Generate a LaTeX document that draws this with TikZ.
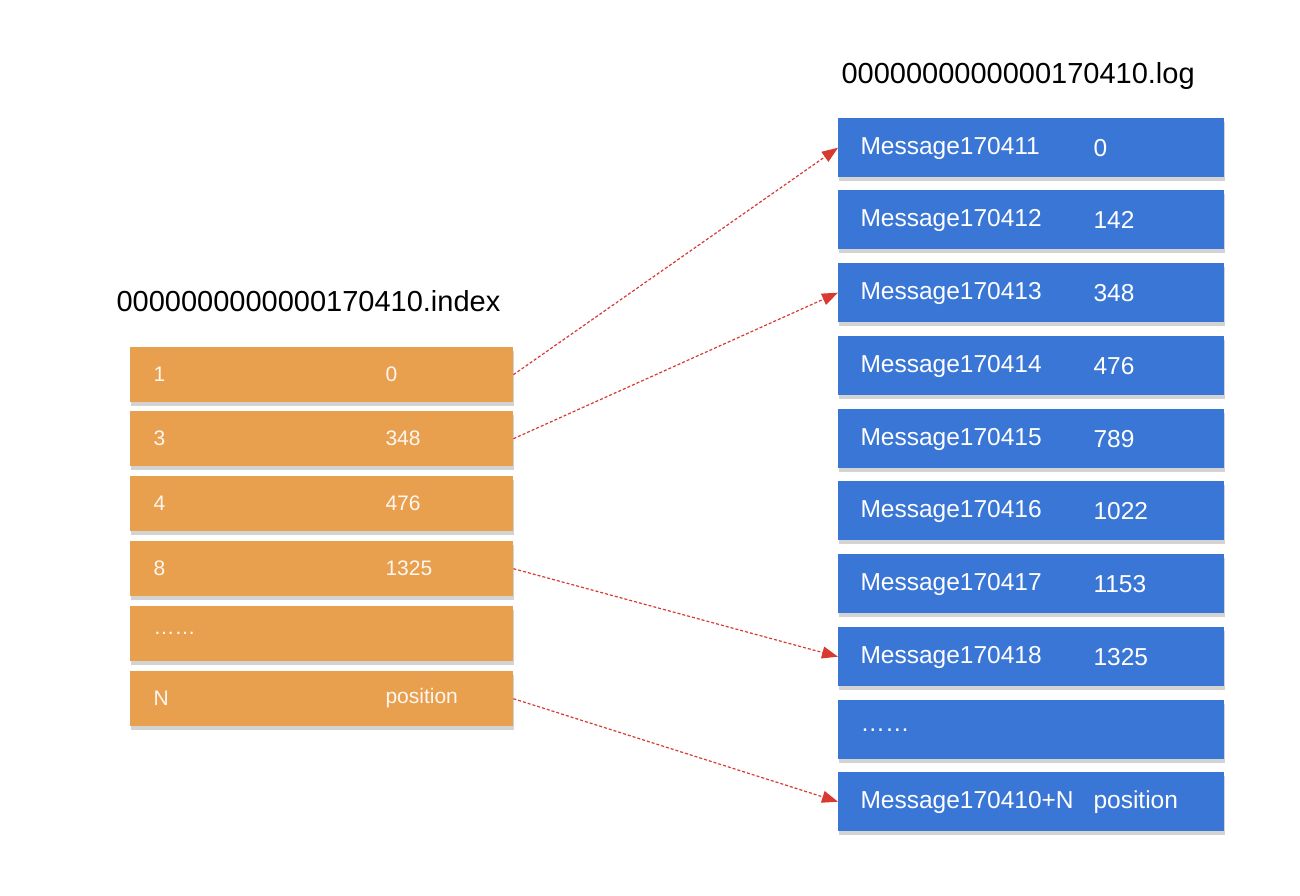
\documentclass[tikz,border=0pt]{standalone}
\usepackage{fontspec}
\setmainfont{Liberation Sans}
\usetikzlibrary{arrows.meta,shadows}
\definecolor{org}{HTML}{E8A04E}
\definecolor{blu}{HTML}{3A76D6}
\definecolor{arr}{HTML}{D83A32}
\begin{document}
\begin{tikzpicture}[x=1pt,y=-1pt,
  ob/.style={fill=org,draw=none,minimum width=383pt,minimum height=55pt,anchor=north west,inner sep=0,drop shadow={shadow xshift=1pt,shadow yshift=-4pt,opacity=.35}},
  bb/.style={fill=blu,draw=none,minimum width=386pt,minimum height=59pt,anchor=north west,inner sep=0,drop shadow={shadow xshift=1pt,shadow yshift=-4pt,opacity=.35}},
  lt/.style={text=white!92!org,font=\fontsize{21}{23}\selectfont,anchor=west},
  rt/.style={text=white,font=\fontsize{24.5}{26}\selectfont,anchor=west},
  ttl/.style={font=\fontsize{29}{31}\selectfont,anchor=west},
  ar/.style={draw=arr,densely dashed,line width=1.2pt,-{Triangle[length=16pt,width=12pt]}}]
\useasboundingbox (0,0) rectangle (1300,896);
\node[ttl] (ti) at (113,301) {0000000000000170410.index};
\node[ttl] (tl) at (838,76) {0000000000000170410.log};
\foreach \i/\y/\a/\b in {1/347/1/0,2/411/3/348,3/476/4/476,4/541/8/1325,5/606/{\ldots\ldots}/,6/671/N/position}{
  \node[ob] (L\i) at (130,\y) {};
  \node[lt] (La\i) at (150,\y+27.5) {\a};
  \node[lt] (Lb\i) at (382,\y+27.5) {\b};
}
\foreach \i/\y/\a/\b in {1/118/Message170411/0,2/190/Message170412/142,3/263/Message170413/348,4/336/Message170414/476,5/409/Message170415/789,6/481/Message170416/1022,7/554/Message170417/1153,8/627/Message170418/1325,9/700/{\ldots\ldots}/,10/772/Message170410+N/position}{
  \node[bb] (R\i) at (838,\y) {};
  \node[rt] (Ra\i) at (857,\y+30) {\a};
  \node[rt] (Rb\i) at (1090,\y+30) {\b};
}
\draw[ar] (L1.east) -- (R1.west);
\draw[ar] (L2.east) -- (R3.west);
\draw[ar] (L4.east) -- (R8.west);
\draw[ar] (L6.east) -- (R10.west);
\end{tikzpicture}
\end{document}
